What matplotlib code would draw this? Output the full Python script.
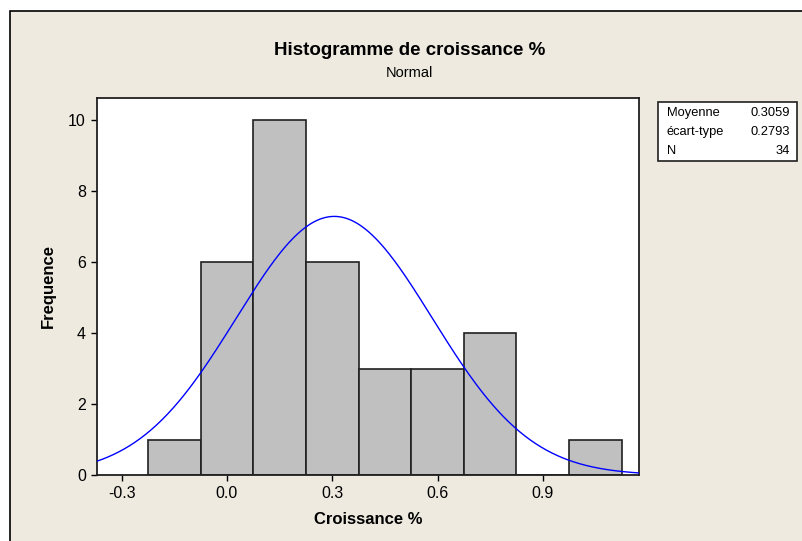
import numpy as np
import matplotlib
matplotlib.use("Agg")
import matplotlib.pyplot as plt
from matplotlib.patches import Rectangle

plt.rcParams['font.family'] = ['Liberation Sans', 'DejaVu Sans']

# classes de l'histogramme (bords) et effectifs
bin_edges = [-0.225, -0.075, 0.075, 0.225, 0.375, 0.525, 0.675, 0.825, 0.975, 1.125]
counts = [1, 6, 10, 6, 3, 3, 4, 0, 1]

# statistiques affichees
moyenne = 0.3059
ecart_type = 0.2793
n = 34

xticks = [-0.3, 0.0, 0.3, 0.6, 0.9]
xticklabels = ["-0.3", "0.0", "0.3", "0.6", "0.9"]
yticks = [0, 2, 4, 6, 8, 10]

W, H = 803, 541
fig = plt.figure(figsize=(W / 100, H / 100), dpi=100)
fig.patch.set_facecolor("white")

# cadre beige exterieur
fig.patches.append(Rectangle((10 / W, -0.1), 1.2, 1 - 11 / H + 0.1,
                             transform=fig.transFigure, facecolor="#EEEAE0",
                             edgecolor="black", linewidth=1.2, zorder=-10))

ax = fig.add_axes([97 / W, 66 / H, 542 / W, 377 / H])
ax.set_zorder(1)
ax.set_facecolor("white")

lefts = bin_edges[:-1]
widths = np.diff(bin_edges)
ax.bar(lefts, counts, width=widths, align="edge", color="#C0C0C0",
       edgecolor="#202020", linewidth=1.2, zorder=2)

# courbe normale ajustee
bw = widths[0]
xs = np.linspace(-0.37, 1.174, 400)
ys = n * bw * np.exp(-0.5 * ((xs - moyenne) / ecart_type) ** 2) / (ecart_type * np.sqrt(2 * np.pi))
ax.plot(xs, ys, color="#0000FF", linewidth=1.0, zorder=3)

ax.set_xlim(-0.37, 1.174)
ax.set_ylim(0, 10.62)
ax.set_xticks(xticks)
ax.set_xticklabels(xticklabels)
ax.set_yticks(yticks)
ax.tick_params(direction="out", length=4, width=1, labelsize=11.5, pad=4)
for s in ax.spines.values():
    s.set_linewidth(1.3)
    s.set_color("#202020")

ax.set_xlabel("Croissance %", fontsize=12, fontweight="bold", labelpad=8)
ax.set_ylabel("Frequence", fontsize=12, fontweight="bold", labelpad=9)

fig.text(410 / W, 1 - 50 / H, "Histogramme de croissance %", ha="center", va="center",
         fontsize=13.5, fontweight="bold")
fig.text(409 / W, 1 - 73 / H, "Normal", ha="center", va="center", fontsize=10.5)

# encadre des statistiques
fig.patches.append(Rectangle((658 / W, 1 - 161 / H), 139 / W, 59 / H,
                             transform=fig.transFigure, facecolor="white",
                             edgecolor="#202020", linewidth=1.2, zorder=-5))
rows = [("Moyenne", f"{moyenne:.4f}"), ("écart-type", f"{ecart_type:.4f}"), ("N", str(n))]
for i, (lab, val) in enumerate(rows):
    yy = 1 - (113 + 19 * i) / H
    fig.text(667 / W, yy, lab, ha="left", va="center", fontsize=9.3)
    fig.text(790 / W, yy, val, ha="right", va="center", fontsize=9.3)

fig.savefig("out.png", dpi=100)
